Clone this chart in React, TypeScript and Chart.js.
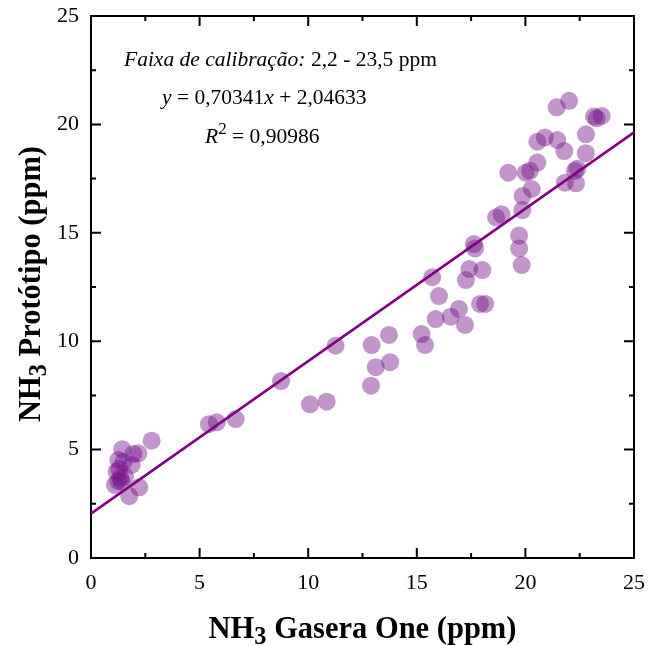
import React, { useEffect, useRef } from "react";
import { Chart, registerables } from "chart.js";

Chart.register(...registerables);

// NH3 measured by Gasera One (ppm)
const gaseraOne = [
  1.1, 1.25, 1.41, 1.35, 1.57, 1.18, 1.3, 1.26, 1.49, 1.87, 1.95, 2.18, 1.44, 2.79, 2.22, 1.76,
  5.43, 5.79, 6.66, 8.75, 10.08, 10.85, 11.26, 12.89, 13.11, 12.92, 13.77, 13.72,
  15.22, 15.38, 15.87, 16.56, 16.94, 17.22, 17.91, 18.15, 16.02, 15.71, 17.26, 17.42, 18.02,
  17.63, 17.68, 18.65, 18.9, 19.71, 19.71, 19.83, 19.86, 19.87, 20.29, 19.21, 20.01, 20.21,
  20.55, 21.82, 22.33, 22.28, 22.39, 21.79, 22.78, 22.79, 20.55, 20.9, 21.47, 21.44, 22.01,
  23.16, 23.51, 23.28,
];
// NH3 measured by the prototype (ppm)
const prototipo = [
  3.37, 3.55, 3.52, 3.7, 3.75, 3.98, 4.1, 4.52, 4.44, 4.29, 4.8, 4.83, 5.02, 5.41, 3.26, 2.85,
  6.17, 6.26, 6.41, 8.16, 7.09, 7.21, 9.79, 7.95, 8.8, 9.82, 9.03, 10.29,
  10.33, 9.82, 11.02, 11.13, 11.49, 10.75, 11.72, 11.72, 12.08, 12.95, 12.82, 13.33, 13.28,
  14.48, 14.28, 15.71, 15.85, 14.87, 14.28, 13.51, 16.05, 16.7, 17.02, 17.77, 17.77, 17.86,
  18.24, 17.31, 17.28, 17.86, 17.95, 18.77, 18.67, 19.54, 19.2, 19.4, 19.28, 20.79, 21.09,
  20.36, 20.39, 20.28,
];

const fitSlope = 0.70341;
const fitIntercept = 2.04633;
const fitRange = [0, 25];
const axisMin = 0;
const axisMax = 25;
const majorStep = 5;
const tickMarks = [0, 2.5, 5, 7.5, 10, 12.5, 15, 17.5, 20, 22.5, 25];

const xTitle = [{ t: "NH" }, { t: "3", sub: true }, { t: " Gasera One (ppm)" }];
const yTitle = [{ t: "NH" }, { t: "3", sub: true }, { t: " Protótipo (ppm)" }];
const note1 = [{ t: "Faixa de calibração:", it: true }, { t: " 2,2 - 23,5 ppm" }];
const note2 = [
  { t: "y", it: true },
  { t: " = 0,70341" },
  { t: "x", it: true },
  { t: " + 2,04633" },
];
const note3 = [{ t: "R", it: true }, { t: "2", sup: true }, { t: " = 0,90986" }];

const SERIF = '"Liberation Serif", "Times New Roman", serif';

type Seg = { t: string; it?: boolean; sub?: boolean; sup?: boolean };

function fontFor(seg: Seg, size: number, bold: boolean) {
  const s = seg.sub || seg.sup ? size * 0.8 : size;
  return `${seg.it ? "italic " : ""}${bold ? "bold " : ""}${s}px ${SERIF}`;
}

function richWidth(ctx: CanvasRenderingContext2D, segs: Seg[], size: number, bold: boolean) {
  let w = 0;
  for (const s of segs) {
    ctx.font = fontFor(s, size, bold);
    w += ctx.measureText(s.t).width;
  }
  return w;
}

function drawRich(
  ctx: CanvasRenderingContext2D,
  segs: Seg[],
  x: number,
  y: number,
  size: number,
  bold: boolean,
  align: "left" | "center"
) {
  let cx = x;
  if (align === "center") cx = x - richWidth(ctx, segs, size, bold) / 2;
  ctx.textAlign = "left";
  ctx.textBaseline = "alphabetic";
  for (const s of segs) {
    ctx.font = fontFor(s, size, bold);
    const dy = s.sub ? size * 0.2 : s.sup ? -size * 0.4 : 0;
    ctx.fillText(s.t, cx, y + dy);
    cx += ctx.measureText(s.t).width;
  }
}

const framePlugin = {
  id: "framePlugin",
  afterDraw(chart: any) {
    const { ctx, chartArea: ca } = chart;
    const xs = chart.scales.x;
    const ys = chart.scales.y;
    ctx.save();
    ctx.strokeStyle = "#000";
    ctx.lineWidth = 2;
    ctx.beginPath();
    for (const v of tickMarks) {
      const len = v % majorStep === 0 ? 10 : 5;
      const px = xs.getPixelForValue(v);
      ctx.moveTo(px, ca.bottom);
      ctx.lineTo(px, ca.bottom - len);
      ctx.moveTo(px, ca.top);
      ctx.lineTo(px, ca.top + len);
      const py = ys.getPixelForValue(v);
      ctx.moveTo(ca.left, py);
      ctx.lineTo(ca.left + len, py);
      ctx.moveTo(ca.right, py);
      ctx.lineTo(ca.right - len, py);
    }
    ctx.stroke();

    ctx.fillStyle = "#000";
    // axis titles
    drawRich(ctx, xTitle, (ca.left + ca.right) / 2, ca.bottom + 80, 30.5, true, "center");
    ctx.save();
    ctx.translate(40, (ca.top + ca.bottom) / 2 - 3);
    ctx.rotate(-Math.PI / 2);
    drawRich(ctx, yTitle, 0, 0, 30.5, true, "center");
    ctx.restore();

    // annotations
    drawRich(ctx, note1, ca.left + 33, ca.top + 50, 21.5, false, "left");
    drawRich(ctx, note2, ca.left + 71, ca.top + 88, 21.5, false, "left");
    drawRich(ctx, note3, ca.left + 114, ca.top + 127, 21.5, false, "left");
    ctx.restore();
  },
};

function fixSize(key: "width" | "height", val: number) {
  return (s: any) => {
    s[key] = val;
    s.paddingTop = 0;
    s.paddingBottom = 0;
    s.paddingLeft = 0;
    s.paddingRight = 0;
  };
}

export default function App() {
  const ref = useRef<HTMLCanvasElement | null>(null);

  useEffect(() => {
    if (!ref.current) return;
    const points = gaseraOne.map((x, i) => ({ x, y: prototipo[i] }));
    const fitLine = fitRange.map((x) => ({ x, y: fitSlope * x + fitIntercept }));
    const tickFont = { family: SERIF, size: 22 };

    const chart = new Chart(ref.current, {
      type: "scatter",
      data: {
        datasets: [
          {
            label: "fit",
            data: fitLine,
            showLine: true,
            borderColor: "#800080",
            borderWidth: 2.5,
            pointRadius: 0,
            order: 0,
          } as any,
          {
            label: "dados",
            data: points,
            pointRadius: 9,
            pointHoverRadius: 9,
            backgroundColor: "rgba(120,20,140,0.45)",
            borderWidth: 0,
            order: 1,
          },
        ],
      },
      options: {
        responsive: false,
        animation: false,
        devicePixelRatio: 1,
        layout: { padding: 0 },
        plugins: { legend: { display: false }, tooltip: { enabled: false } },
        scales: {
          x: {
            type: "linear",
            position: "bottom",
            min: axisMin,
            max: axisMax,
            ticks: { stepSize: majorStep, font: tickFont, color: "#000", padding: 4, maxRotation: 0 },
            grid: { display: false },
            border: { display: true, color: "#000", width: 2 },
            afterFit: fixSize("height", 88),
          },
          y: {
            type: "linear",
            position: "left",
            min: axisMin,
            max: axisMax,
            ticks: { stepSize: majorStep, font: tickFont, color: "#000", padding: 4 },
            grid: { display: false },
            border: { display: true, color: "#000", width: 2 },
            afterFit: fixSize("width", 91),
          },
          x2: {
            type: "linear",
            position: "top",
            display: true,
            min: axisMin,
            max: axisMax,
            ticks: { display: false },
            grid: { display: false },
            border: { display: true, color: "#000", width: 2 },
            afterFit: fixSize("height", 16),
          },
          y2: {
            type: "linear",
            position: "right",
            display: true,
            min: axisMin,
            max: axisMax,
            ticks: { display: false },
            grid: { display: false },
            border: { display: true, color: "#000", width: 2 },
            afterFit: fixSize("width", 14),
          },
        },
      } as any,
      plugins: [framePlugin],
    });
    return () => chart.destroy();
  }, []);

  return (
    <div style={{ position: "fixed", left: 0, top: 0, width: 648, height: 646, background: "#fff" }}>
      <canvas ref={ref} width={648} height={646} style={{ width: 648, height: 646, display: "block" }} />
    </div>
  );
}
